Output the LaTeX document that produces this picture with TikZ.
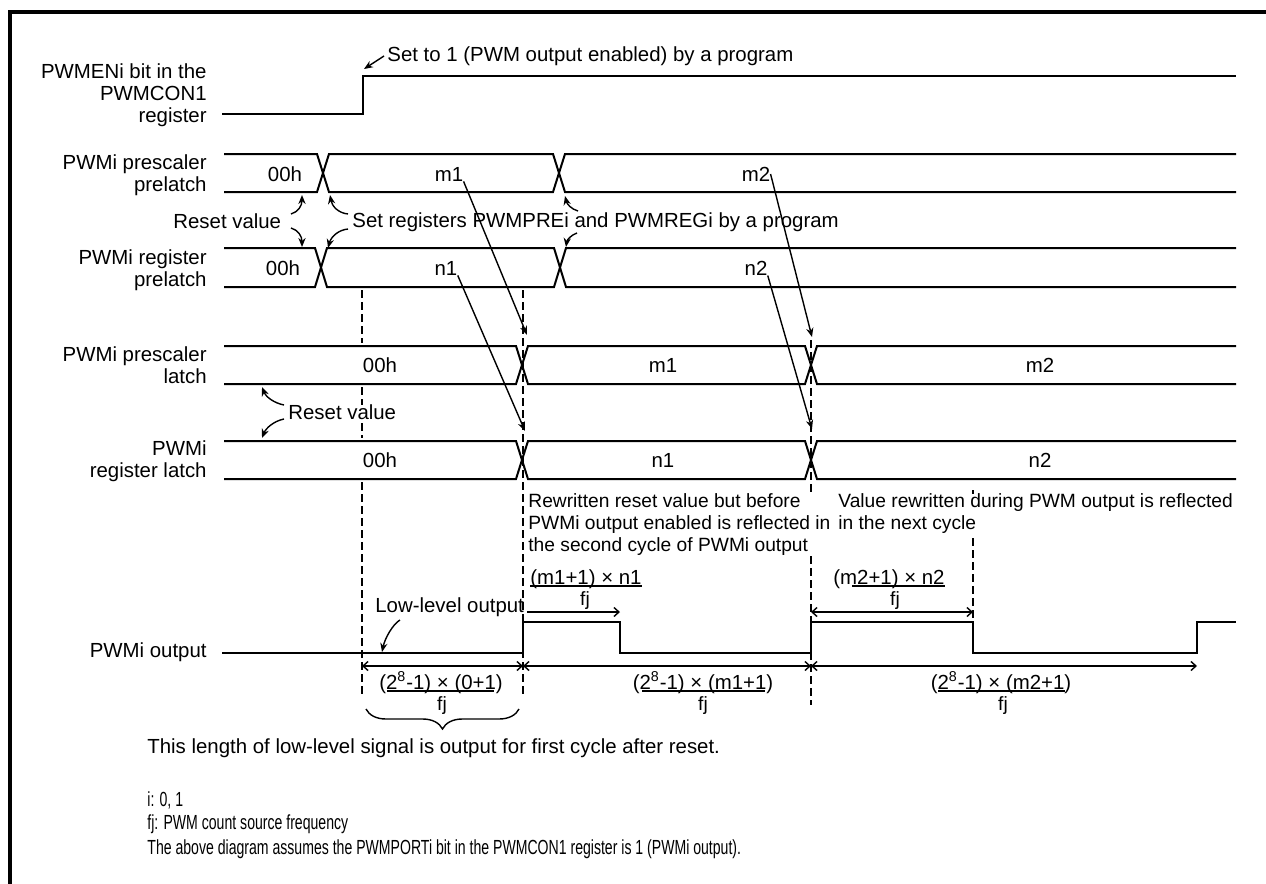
\documentclass[tikz,border=0pt]{standalone}
\usepackage{fontspec}
\setmainfont{Liberation Sans}
\usepackage{graphicx}
\usetikzlibrary{arrows.meta, decorations.pathreplacing}
\tikzset{
    font=\fontsize{10.2}{11}\selectfont,
    >=Stealth,
    % Lines
    border/.style={line width=2pt},
    sig/.style={line width=1pt},
    guide/.style={line width=1pt, dash pattern=on 4pt off 2pt},
    fracbar/.style={line width=0.7pt},
    curly/.style={decorate, decoration={brace, amplitude=10pt}, line width=0.7pt},
    % Arrows
    pointer/.style={-{Stealth[length=4.5pt, width=3.6pt]}, line width=0.7pt},
    pwidth/.style={{Straight Barb[length=2.5pt, width=4.5pt]}-{Straight Barb[length=2.5pt, width=4.5pt]}, line width=0.7pt},
    pwidthr/.style={-{Straight Barb[length=2.5pt, width=4.5pt]}, line width=0.7pt},
    % Labels
    lbl/.style={inner sep=0pt},
    signame/.style={lbl, anchor=east, align=right},
    note/.style={lbl, anchor=west, align=left},
    smallnote/.style={note, font=\fontsize{9.6}{11}\selectfont, fill=white},
    fracnum/.style={lbl, anchor=base},
    fracden/.style={lbl, anchor=base, font=\fontsize{9.6}{11}\selectfont}
}

\begin{document}
\begin{tikzpicture}[x=0.5pt, y=-0.5pt]
\useasboundingbox (0,0) rectangle (1266,884);
\draw[border] (10,884) -- (10,12) -- (1266,12);

\node[signame] (nen) at (207,95) {PWMENi bit in the\\PWMCON1\\register};
\node[signame] (npp) at (207,175) {PWMi prescaler\\prelatch};
\node[signame] (nrp) at (207,270) {PWMi register\\prelatch};
\node[signame] (npl) at (207,365) {PWMi prescaler\\latch};
\node[signame] (nrl) at (207,461) {PWMi\\register latch};
\node[signame] (nout) at (207,652) {PWMi output};

\draw[guide] (362,290) -- (362,343);
\draw[guide] (362,387) -- (362,438);
\draw[guide] (362,482) -- (362,695);
\draw[guide] (523,290) -- (523,697);
\draw[guide] (811,340) -- (811,705);
\draw[guide] (973,490) -- (973,622);

\draw[sig] (222,114) -- (363,114) -- (363,76) -- (1236,76);
\foreach \t/\b/\ca/\cb in {154/192/323/559, 248/287/321/560, 346/384/522/811, 441/479/522/811} {
    \draw[sig] (224,\t) -- (\ca-6,\t) -- (\ca+6,\b) -- (\cb-6,\b) -- (\cb+6,\t) -- (1236,\t);
    \draw[sig] (224,\b) -- (\ca-6,\b) -- (\ca+6,\t) -- (\cb-6,\t) -- (\cb+6,\b) -- (1236,\b);
}
\draw[sig] (222,653) -- (523,653) -- (523,622) -- (620,622) -- (620,653) -- (811,653) -- (811,622)
    -- (973,622) -- (973,653) -- (1197,653) -- (1197,622) -- (1236,622);

\node[lbl] (pp0) at (285,174) {00h};
\node[lbl] (pp1) at (449,174) {m1};
\node[lbl] (pp2) at (756,174) {m2};
\node[lbl] (rp0) at (283,268) {00h};
\node[lbl] (rp1) at (446,268) {n1};
\node[lbl] (rp2) at (756,268) {n2};
\node[lbl] (pl0) at (380,365) {00h};
\node[lbl] (pl1) at (663,365) {m1};
\node[lbl] (pl2) at (1040,365) {m2};
\node[lbl] (rl0) at (380,460) {00h};
\node[lbl] (rl1) at (663,460) {n1};
\node[lbl] (rl2) at (1040,460) {n2};

\node[note] (setpwm) at (387,56) {Set to 1 (PWM output enabled) by a program};
\coordinate (enrise) at (364,69);
\draw[pointer] ([xshift=-1.5pt]setpwm.west) -- (enrise);

\node[note] (rst1) at (173,221) {Reset value};
\draw[pointer] (291,214) .. controls (298,212) and (302,206) .. (302,195);
\draw[pointer] (291,228) .. controls (298,230) and (302,236) .. (302,247);

\node[note] (setreg) at (352,222) {Set registers PWMPREi and PWMREGi by a program};
\draw[pointer] (348,214) .. controls (338,213) and (332,206) .. (330,195);
\draw[pointer] (348,229) .. controls (338,230) and (331,237) .. (328,248);
\draw[pointer] (578,211) .. controls (571,209) and (567,204) .. (565,196);
\draw[pointer] (577,233) .. controls (571,235) and (567,240) .. (566,247);

\coordinate (tpl1) at (527,335);
\coordinate (trl1) at (525,431);
\coordinate (tpl2) at (812,337);
\coordinate (trl2) at (812,429);
\draw[pointer] (pp1.south east) -- (tpl1);
\draw[pointer] (rp1.south east) -- (trl1);
\draw[pointer] (pp2.east) -- (tpl2);
\draw[pointer] (rp2.south east) -- (trl2);

\node[note, fill=white] (rst2) at (288,412) {Reset value};
\draw[pointer] (284,405) .. controls (274,403) and (266,397) .. (262,387);
\draw[pointer] (284,419) .. controls (274,421) and (266,428) .. (262,438);

\node[smallnote] (rewr) at (528,525) {Rewritten reset value but before\\PWMi output enabled is reflected in\\the second cycle of PWMi output};
\node[smallnote] (valrw) at (838,514) {Value rewritten during PWM output is reflected\\in the next cycle};

\node[note] (lowtxt) at (375,607) {Low-level output};
\draw[pointer] (400,620) .. controls (393,624) and (385,638) .. (382,652);

\coordinate (wa) at (527,612);
\coordinate (wb) at (620,612);
\coordinate (wc) at (811,612);
\coordinate (wd) at (973,612);
\draw[pwidthr] (wa) -- (wb);
\draw[pwidth] (wc) -- (wd);

\coordinate (da) at (362,666);
\coordinate (db) at (523,666);
\coordinate (dc) at (811,666);
\coordinate (dd) at (1197,666);
\draw[pwidth] (da) -- (db);
\draw[pwidth] (db) -- (dc);
\draw[pwidth] (dc) -- (dd);

\node[fracnum] (fd) at (586,584) {(m1+1) × n1};
\node[fracden] (fdd) at (585,605) {fj};
\draw[fracbar] ([yshift=-1pt]fd.base west) -- ([yshift=-1pt]fd.base east);
\node[fracnum] (fe) at (889,584) {(m2+1) × n2};
\node[fracden] (fed) at (895,605) {fj};
\draw[fracbar] ([shift={(19,2)}]fe.base west) -- ([shift={(0,2)}]fe.base east);

\node[fracnum] (fa) at (441,689) {(2\textsuperscript{8}-1) × (0+1)};
\node[fracden] (fad) at (442,710) {fj};
\draw[fracbar] ([shift={(8,2)}]fa.base west) -- ([shift={(-9,2)}]fa.base east);
\node[fracnum] (fb) at (703,689) {(2\textsuperscript{8}-1) × (m1+1)};
\node[fracden] (fbd) at (703,710) {fj};
\draw[fracbar] ([shift={(10,2)}]fb.base west) -- ([shift={(-9,2)}]fb.base east);
\node[fracnum] (fc) at (1001,689) {(2\textsuperscript{8}-1) × (m2+1)};
\node[fracden] (fcd) at (1003,710) {fj};
\draw[fracbar] ([shift={(8,2)}]fc.base west) -- ([shift={(-7,2)}]fc.base east);

\draw[curly] (519,709) -- (366,709);
\node[note] (lenote) at (147,748) {This length of low-level signal is output for first cycle after reset.};

\node[note] (ni) at (147,800) {\scalebox{0.69}[1]{i: 0, 1}};
\node[note] (nfj) at (147,824) {\scalebox{0.69}[1]{fj: PWM count source frequency}};
\node[note] (nassume) at (147,849) {\scalebox{0.69}[1]{The above diagram assumes the PWMPORTi bit in the PWMCON1 register is 1 (PWMi output).}};
\end{tikzpicture}
\end{document}
